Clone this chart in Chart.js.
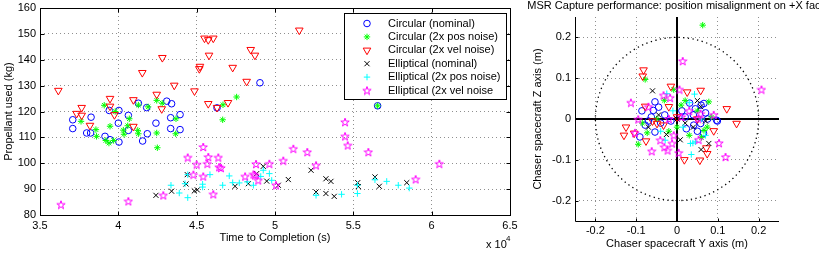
<!DOCTYPE html>
<html>
<head>
<meta charset="utf-8">
<script src="https://cdn.jsdelivr.net/npm/chart.js@4.4.1/dist/chart.umd.min.js"></script>
<style>
html, body { margin: 0; padding: 0; background: #fff; overflow: hidden; }
#wrap { position: relative; width: 819px; height: 254px; overflow: hidden; }
#timeCanvas { position: absolute; left: 0; top: 0; }
#posCanvas { position: absolute; left: 520px; top: 0; }
</style>
</head>
<body>
<div id="wrap">
  <canvas id="timeCanvas" width="520" height="254"></canvas>
  <canvas id="posCanvas" width="314" height="254"></canvas>
</div>
<script>
// series names (legend order)
const seriesNames = ['Circular (nominal)', 'Circular (2x pos noise)', 'Circular (2x vel noise)',
    'Elliptical (nominal)', 'Elliptical (2x pos noise)', 'Elliptical (2x vel noise'];

// tick labels
const timeTicks = [3.5, 4, 4.5, 5, 5.5, 6, 6.5];          // x 10^4 s
const propTicks = [80, 90, 100, 110, 120, 130, 140, 150, 160];
const offsetTicks = [-0.2, -0.1, 0, 0.1, 0.2];
const missRadius = 0.2; // dotted capture circle (m)

// left plot: [time to completion (x10^4 s), propellant used (kg)]
const circNomRun = [[3.709,116.8],[3.709,113.4],[3.826,117.8],[3.798,111.7],[3.823,111.7],[3.915,110.4],[3.942,120.4],
    [3.947,109.1],[4.004,120.4],[4.0,115.5],[4.004,108.2],[4.064,118.5],[4.064,112.7],[4.128,123.2],[4.155,108.6],
    [4.181,121.5],[4.185,111.4],[4.24,115.5],[4.309,124],[4.34,123],[4.334,117.6],[4.394,118.8],[4.334,113.4],
    [4.394,113],[4.63,121.4],[4.904,131.1],[5.655,122.2]];
const circPosRun = [[3.762,116.2],[3.857,113],[3.861,110.4],[3.91,122.4],[3.92,108.8],[3.94,107.8],[3.97,108.8],
    [3.947,114.3],[3.98,120],[4.032,112.8],[4.036,111.2],[4.06,114.5],[4.07,117.2],[4.124,112.7],[4.128,111.4],
    [4.128,122.5],[4.19,121.8],[4.245,124.3],[4.28,123.2],[4.245,111.7],[4.249,106],[4.368,117.2],[4.366,111.4],
    [4.666,116.8],[4.668,122.6],[4.755,125.6],[5.655,122.2]];
const circVelRun = [[3.617,128.1],[3.734,119.2],[3.766,121.5],[3.766,118.5],[3.819,114.6],[3.947,125],[3.947,122],
    [3.975,118.7],[4.096,124.5],[4.096,114.2],[4.153,135],[4.245,126.6],[4.277,121],[4.281,140.8],[4.357,130.1],
    [4.486,127.9],[4.517,136.5],[4.521,137.4],[4.55,148.3],[4.574,147.7],[4.606,148.3],[4.579,141.7],[4.574,123],
    [4.63,121.5],[4.70,123.4],[4.73,137],[4.819,131.6],[4.845,143.9],[4.872,141.7],[5.155,151.4]];
const ellNomRun = [[4.24,87.6],[4.34,89.2],[4.432,92.0],[4.44,95.6],[4.485,89.3],[4.504,89.7],[4.745,91.1],[4.83,92.1],
    [4.883,96.0],[4.925,98.8],[4.947,93.1],[5.021,91.5],[5.085,93.7],[5.23,97.3],[5.262,88.9],[5.325,94],[5.357,93],
    [5.325,88.3],[5.378,87.2],[5.528,92.5],[5.532,91],[5.638,94.7],[5.666,91.1],[5.841,92.5]];
const ellPosRun = [[4.336,91.5],[4.389,88.5],[4.443,86.7],[4.443,95.6],[4.426,92.1],[4.538,91.9],[4.538,90.8],
    [4.585,95.6],[4.666,91.5],[4.708,95.1],[4.73,92.5],[4.772,92.4],[4.823,92.8],[4.862,91.5],[4.909,94.9],
    [4.925,97.3],[4.964,96],[4.979,93.4],[5.262,87.6],[5.425,88],[5.526,91.5],[5.526,88.3],[5.638,93.6],[5.713,93],
    [5.787,91.5],[5.857,90.4]];
const ellVelRun = [[3.634,84.0],[4.064,85.3],[4.287,87.6],[4.443,102.2],[4.479,95.6],[4.5,99.5],[4.542,106.3],
    [4.542,94.9],[4.574,102.4],[4.568,99.8],[4.638,102.2],[4.643,98.5],[4.655,98.2],[4.606,88.0],[4.809,94.9],
    [4.862,95.7],[4.872,95.3],[4.893,93.4],[4.879,99.7],[4.964,99.8],[5.006,91.5],[5.053,101],[5.117,105.6],
    [5.206,104.3],[5.262,99.2],[5.447,115.9],[5.447,110.4],[5.464,106.9],[5.596,104.3],[5.898,93.8],[6.049,99.8]];

// right plot: [Y offset (m), Z offset (m)]
const circNomOffset = [[-0.054,0.042],[-0.045,0.029],[-0.058,0.021],[-0.086,0.02],[0.031,0.039],[0.059,0.034],
    [0.066,0.038],[0.097,-0.003],[0.099,-0.005],[-0.078,-0.015],[-0.091,-0.044],[-0.054,-0.032],[0.023,-0.024],
    [0.041,-0.015],[0.058,-0.011],[-0.063,0.005],[-0.03,0.01],[0.04,0.01],[0.02,0.005],[0.07,0.015],[-0.015,-0.005],
    [0.05,-0.03],[0.065,-0.035],[-0.04,-0.01],[0.075,0.0],[-0.07,-0.005],[0.012,0.02],[0.045,0.025]];
const circPosOffset = [[0.063,0.23],[-0.078,0.097],[-0.008,0.072],[-0.031,0.046],[0.078,0.042],[0.01,0.034],
    [-0.095,-0.062],[-0.073,-0.034],[0.066,-0.028],[0.074,-0.02],[0.02,0.045],[0.05,0.02],[-0.05,0.0],
    [-0.085,-0.01],[0.0,-0.02],[0.03,-0.04],[0.06,-0.045],[-0.02,-0.03],[0.085,0.005]];
const circVelOffset = [[-0.082,0.12],[-0.084,0.105],[-0.078,0.031],[-0.015,0.08],[0.025,0.066],[0.058,0.07],
    [0.122,0.025],[0.146,-0.011],[-0.125,-0.02],[-0.13,-0.04],[-0.076,-0.054],[-0.033,-0.015],[-0.049,-0.011],
    [0.018,-0.1],[0.056,-0.101],[0.074,-0.085],[0.072,-0.071],[0.09,-0.029],[-0.105,-0.035],[-0.06,-0.005],
    [0.0,0.005],[0.05,0.0],[-0.02,0.03]];
const ellNomOffset = [[-0.06,0.069],[-0.026,-0.038],[0.008,-0.051],[0.059,-0.075],[0.078,-0.06],[0.058,0.03],
    [0.02,-0.01],[-0.045,0.01],[0.04,-0.02],[0.07,-0.005],[0.0,0.0],[-0.07,-0.02],[0.05,0.045]];
const ellPosOffset = [[-0.025,0.062],[0.043,0.061],[0.035,-0.087],[0.033,-0.06],[0.045,-0.056],[-0.029,-0.052],
    [0.039,-0.059],[0.03,0.04],[-0.01,0.02],[0.06,0.0],[-0.04,-0.03],[0.015,-0.02],[0.07,-0.04]];
const ellVelOffset = [[0.014,0.142],[0.207,0.072],[-0.113,0.04],[0.006,0.072],[-0.033,0.058],[-0.017,0.052],
    [0.058,0.013],[0.052,0.001],[0.011,0.005],[-0.103,-0.034],[-0.095,-0.001],[-0.062,-0.079],[-0.041,-0.052],
    [-0.031,-0.069],[-0.023,-0.077],[-0.012,-0.06],[-0.008,-0.04],[0.004,-0.083],[0.053,-0.051],[0.103,-0.059],
    [0.119,-0.093],[-0.07,0.03],[0.03,0.02],[-0.02,0.0],[0.09,0.01]];

const FONT = 'Liberation Sans';
const GRID_COLOR = '#8f8f8f';

// MATLAB-like pentagram marker (Chart.js has none)
function makePentagram(color, size) {
    let c = document.createElement('canvas');
    c.width = size; c.height = size;
    let g = c.getContext('2d');
    let R = size / 2 - 0.6, r = R * 0.382, cx = size / 2, cy = size / 2 + 0.4;
    g.beginPath();
    for (let k = 0; k < 10; k++) {
        let ang = -Math.PI / 2 + k * Math.PI / 5;
        let rr = (k % 2) ? r : R;
        let px = cx + rr * Math.cos(ang), py = cy + rr * Math.sin(ang);
        if (k === 0) g.moveTo(px, py); else g.lineTo(px, py);
    }
    g.closePath();
    g.strokeStyle = color;
    g.lineWidth = 1;
    g.stroke();
    return c;
}

const seriesColors = ['#0000ff', '#00ff00', '#ff0000', '#000000', '#00ffff', '#ff00ff'];
const markerStyles = ['circle', 'star', 'triangle', 'crossRot', 'cross', makePentagram('#ff00ff', 10)];
const markerRot = [0, 0, 180, 0, 0, 0];
const markerSize = [3.3, 3.2, 4.4, 3.6, 3.2, 4];

function makeSets(lists) {
    return lists.map(function(pts, i) {
        return {
            label: seriesNames[i],
            data: pts.map(p => ({ x: p[0], y: p[1] })),
            showLine: false,
            pointStyle: markerStyles[i],
            pointRotation: markerRot[i],
            pointRadius: markerSize[i],
            pointHoverRadius: markerSize[i],
            borderColor: seriesColors[i],
            pointBorderColor: seriesColors[i],
            backgroundColor: 'rgba(0,0,0,0)',
            pointBackgroundColor: 'rgba(0,0,0,0)',
            pointBorderWidth: 1,
            order: 6 - i   // later series drawn on top, like MATLAB
        };
    });
}

function drawMarker(ctx, i, x, y) {
    ctx.save();
    ctx.strokeStyle = seriesColors[i];
    ctx.fillStyle = 'rgba(0,0,0,0)';
    ctx.lineWidth = 1;
    Chart.helpers.drawPoint(ctx, {
        pointStyle: markerStyles[i], rotation: markerRot[i], radius: markerSize[i], borderWidth: 1
    }, x, y);
    ctx.restore();
}

function fixedTicks(list) {
    return function(scale) { scale.ticks = list.map(v => ({ value: v })); };
}

// box, inward ticks, legend and exponent label of the left axes
const timeFrame = {
    id: 'timeFrame',
    afterDraw(chart) {
        let ctx = chart.ctx, a = chart.chartArea, x = chart.scales.x, y = chart.scales.y;
        let L = Math.round(a.left) + 0.5, R = Math.round(a.right) + 0.5;
        let T = Math.round(a.top) + 0.5, B = Math.round(a.bottom) + 0.5;
        ctx.save();
        ctx.strokeStyle = '#000';
        ctx.lineWidth = 1;
        ctx.strokeRect(L, T, R - L, B - T);
        ctx.beginPath();
        timeTicks.forEach(function(v) {
            let px = Math.round(x.getPixelForValue(v)) + 0.5;
            ctx.moveTo(px, B); ctx.lineTo(px, B - 4);
            ctx.moveTo(px, T); ctx.lineTo(px, T + 4);
        });
        propTicks.forEach(function(v) {
            let py = Math.round(y.getPixelForValue(v)) + 0.5;
            ctx.moveTo(L, py); ctx.lineTo(L + 4, py);
            ctx.moveTo(R, py); ctx.lineTo(R - 4, py);
        });
        ctx.stroke();

        // legend inside the axes, top right
        let bx = 344.5, by = 13.5, bw = 162, bh = 86;
        ctx.fillStyle = '#fff';
        ctx.fillRect(bx, by, bw, bh);
        ctx.strokeRect(bx, by, bw, bh);
        ctx.font = '11px "' + FONT + '"';
        ctx.textBaseline = 'middle';
        ctx.textAlign = 'left';
        seriesNames.forEach(function(name, i) {
            let ry = by + 10 + i * 13.4;
            drawMarker(ctx, i, 367, ry);
            ctx.fillStyle = '#000';
            ctx.fillText(name, 388, ry);
        });

        // x 10^4
        ctx.fillStyle = '#000';
        ctx.textBaseline = 'alphabetic';
        ctx.font = '11px "' + FONT + '"';
        ctx.fillText('x 10', 486, 248);
        ctx.font = '8px "' + FONT + '"';
        ctx.fillText('4', 506, 241);
        ctx.restore();
    }
};

// capture circle, crosshair, axis lines and title of the right axes
const posFrame = {
    id: 'posFrame',
    beforeDatasetsDraw(chart) {
        let ctx = chart.ctx, a = chart.chartArea, x = chart.scales.x, y = chart.scales.y;
        let x0 = x.getPixelForValue(0), y0 = y.getPixelForValue(0);
        ctx.save();
        ctx.strokeStyle = '#000';
        ctx.lineWidth = 1.3;
        ctx.setLineDash([1.3, 3.4]);
        ctx.beginPath();
        ctx.arc(x0, y0, x.getPixelForValue(missRadius) - x0, 0, Math.PI * 2);
        ctx.stroke();
        ctx.setLineDash([]);
        ctx.lineWidth = 2;
        ctx.beginPath();
        ctx.moveTo(x0, a.top); ctx.lineTo(x0, a.bottom);
        ctx.moveTo(a.left, y0); ctx.lineTo(a.right, y0);
        ctx.stroke();
        ctx.restore();
    },
    afterDraw(chart) {
        let ctx = chart.ctx, a = chart.chartArea, x = chart.scales.x, y = chart.scales.y;
        let L = Math.round(a.left) + 0.5, B = Math.round(a.bottom) + 0.5;
        ctx.save();
        ctx.strokeStyle = '#000';
        ctx.lineWidth = 1;
        ctx.beginPath();
        ctx.moveTo(L, a.top); ctx.lineTo(L, B); ctx.lineTo(a.right, B);
        offsetTicks.forEach(function(v) {
            let px = Math.round(x.getPixelForValue(v)) + 0.5;
            ctx.moveTo(px, B); ctx.lineTo(px, B - 3);
            let py = Math.round(y.getPixelForValue(v)) + 0.5;
            ctx.moveTo(L, py); ctx.lineTo(L + 3, py);
        });
        ctx.stroke();
        ctx.fillStyle = '#000';
        ctx.font = '11px "' + FONT + '"';
        ctx.textAlign = 'center';
        ctx.textBaseline = 'middle';
        ctx.fillText('MSR Capture performance: position misalignment on +X face', (a.left + a.right) / 2, 6);
        ctx.restore();
    }
};

function axisOpts(min, max, list, fmt, titleText, titlePad, tickPad, fit) {
    return {
        type: 'linear', min: min, max: max,
        afterBuildTicks: fixedTicks(list),
        afterFit: fit,
        grid: { color: GRID_COLOR, lineWidth: 1, drawTicks: false },
        border: { display: false, dash: [1, 3] },
        ticks: { padding: tickPad, color: '#000', font: { family: FONT, size: 11 },
            maxRotation: 0, autoSkip: false, callback: fmt },
        title: { display: true, text: titleText, color: '#000', font: { family: FONT, size: 11 }, padding: titlePad }
    };
}

const oneDec = v => String(+Number(v).toFixed(1));

new Chart(document.getElementById('timeCanvas'), {
    type: 'scatter',
    data: { datasets: makeSets([circNomRun, circPosRun, circVelRun, ellNomRun, ellPosRun, ellVelRun]) },
    options: {
        responsive: false, animation: false, devicePixelRatio: 1,
        layout: { padding: { left: 0, right: 10, top: 8, bottom: 0 } },
        plugins: { legend: { display: false }, tooltip: { enabled: false } },
        scales: {
            x: axisOpts(3.5, 6.5, timeTicks, oneDec, 'Time to Completion (s)', { top: 0, bottom: 9 }, 4,
                function(s) { s.height = 39; s.paddingLeft = 0; s.paddingRight = 0; }),
            y: axisOpts(80, 160, propTicks, v => String(v), 'Propellant used (kg)', { top: 2, bottom: 0 }, 4,
                function(s) { s.width = 40; s.paddingTop = 0; s.paddingBottom = 0; })
        }
    },
    plugins: [timeFrame]
});

new Chart(document.getElementById('posCanvas'), {
    type: 'scatter',
    data: { datasets: makeSets([circNomOffset, circPosOffset, circVelOffset, ellNomOffset, ellPosOffset, ellVelOffset]) },
    options: {
        responsive: false, animation: false, devicePixelRatio: 1,
        layout: { padding: { left: 0, right: 55, top: 17, bottom: 0 } },
        plugins: { legend: { display: false }, tooltip: { enabled: false } },
        scales: {
            x: axisOpts(-0.25, 0.25, offsetTicks, oneDec, 'Chaser spacecraft Y axis (m)', { top: 0, bottom: 3 }, 3,
                function(s) { s.height = 33; s.paddingLeft = 0; s.paddingRight = 0; }),
            y: axisOpts(-0.25, 0.25, offsetTicks, oneDec, 'Chaser spacecraft Z axis (m)', { top: 11, bottom: 0 }, 4,
                function(s) { s.width = 55; s.paddingTop = 0; s.paddingBottom = 0; })
        }
    },
    plugins: [posFrame]
});
</script>
</body>
</html>
